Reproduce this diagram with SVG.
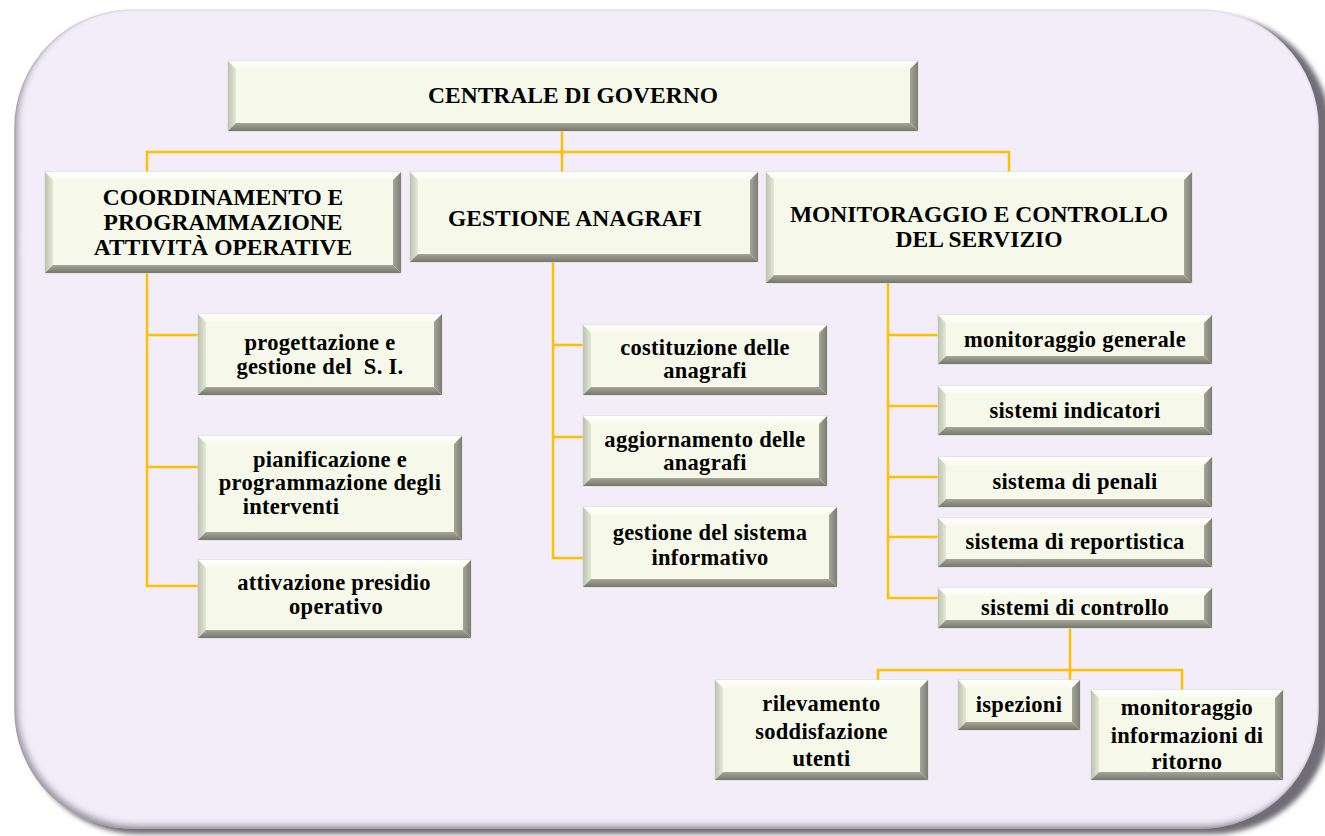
<svg xmlns="http://www.w3.org/2000/svg" width="1325" height="836" viewBox="0 0 1325 836">
  <defs>
    <style>
      .face { fill: #F6F9E9; stroke: #D9DCCF; stroke-width: 1; }
      .bt { fill: url(#gTop); }
      .bl { fill: url(#gLeft); }
      .br { fill: url(#gRight); }
      .bb { fill: url(#gBottom); }
      .hd { font-family: "Liberation Serif", "Times New Roman", serif; font-weight: bold; font-size: 23.5px; fill: #000; text-anchor: middle; }
      .tx { font-family: "Liberation Serif", "Times New Roman", serif; font-weight: bold; font-size: 22.5px; letter-spacing: 0.3px; fill: #000; text-anchor: middle; }
      .wire { fill: none; stroke: #FFC000; stroke-width: 2.5; stroke-linejoin: miter; }
    </style>
    <linearGradient id="gTop" x1="0" y1="0" x2="0" y2="1">
      <stop offset="0" stop-color="#FFFFFB"/>
      <stop offset="1" stop-color="#F8FBEE"/>
    </linearGradient>
    <linearGradient id="gLeft" x1="0" y1="0" x2="1" y2="0">
      <stop offset="0" stop-color="#BEC2B1"/>
      <stop offset="1" stop-color="#E4E8D5"/>
    </linearGradient>
    <linearGradient id="gRight" x1="0" y1="0" x2="1" y2="0">
      <stop offset="0" stop-color="#A2A597"/>
      <stop offset="1" stop-color="#7B7E72"/>
    </linearGradient>
    <linearGradient id="gBottom" x1="0" y1="0" x2="0" y2="1">
      <stop offset="0" stop-color="#A3A698"/>
      <stop offset="1" stop-color="#74776B"/>
    </linearGradient>
    <filter id="panelShadow" x="-5%" y="-5%" width="110%" height="110%">
      <feGaussianBlur stdDeviation="2.5"/>
    </filter>
    <filter id="innerEdge" x="-5%" y="-5%" width="110%" height="110%">
      <feComponentTransfer in="SourceAlpha" result="inv">
        <feFuncA type="table" tableValues="1 0"/>
      </feComponentTransfer>
      <feGaussianBlur in="inv" stdDeviation="3" result="blur"/>
      <feOffset in="blur" dx="4" dy="-4" result="off"/>
      <feFlood flood-color="#6E6C78" flood-opacity="0.75"/>
      <feComposite in2="off" operator="in" result="shade"/>
      <feComposite in="shade" in2="SourceAlpha" operator="in" result="inner"/>
      <feMerge>
        <feMergeNode in="SourceGraphic"/>
        <feMergeNode in="inner"/>
      </feMerge>
    </filter>
  </defs>

  <rect width="1325" height="836" fill="#FFFFFF"/>

  <!-- background panel -->
  <g id="panel">
    <rect x="21" y="15" width="1310" height="819" rx="118" ry="118" fill="#6F6D76" filter="url(#panelShadow)"/>
    <rect x="15" y="10" width="1303" height="818" rx="118" ry="118" fill="#F2EDF9" stroke="#E6E2EE" stroke-width="1.5" filter="url(#innerEdge)"/>
  </g>

  <!-- connectors -->
  <g id="connectors" class="wire">
    <path d="M562,131 V172 M147,172 V152 H1009 V172"/>
    <path d="M147,273 V586 H198 M147,335 H198 M147,467 H198"/>
    <path d="M553,262 V558 H583 M553,345 H583 M553,437 H583"/>
    <path d="M888,283 V598 H938 M888,335 H938 M888,406 H938 M888,477 H938 M888,537 H938"/>
    <path d="M1070,628 V680 M878,680 V670 H1182 V690"/>
  </g>

  <!-- level 0 -->
  <g id="centrale" transform="translate(228,61)">
    <rect class="face" width="690" height="70"/>
    <polygon class="bt" points="0,0 690,0 682,8 8,8"/>
    <polygon class="bl" points="0,0 8,8 8,62 0,70"/>
    <polygon class="br" points="690,0 690,70 682,62 682,8"/>
    <polygon class="bb" points="0,70 8,62 682,62 690,70"/>
    <text class="hd" x="345" y="42">CENTRALE DI GOVERNO</text>
  </g>

  <!-- level 1 -->
  <g id="coordinamento" transform="translate(45,172)">
    <rect class="face" width="356" height="101"/>
    <polygon class="bt" points="0,0 356,0 348,8 8,8"/>
    <polygon class="bl" points="0,0 8,8 8,93 0,101"/>
    <polygon class="br" points="356,0 356,101 348,93 348,8"/>
    <polygon class="bb" points="0,101 8,93 348,93 356,101"/>
    <text class="hd" x="178" y="33">COORDINAMENTO E</text>
    <text class="hd" x="178" y="58">PROGRAMMAZIONE</text>
    <text class="hd" x="178" y="83">ATTIVITÀ OPERATIVE</text>
  </g>

  <g id="anagrafi" transform="translate(410,172)">
    <rect class="face" width="348" height="90"/>
    <polygon class="bt" points="0,0 348,0 340,8 8,8"/>
    <polygon class="bl" points="0,0 8,8 8,82 0,90"/>
    <polygon class="br" points="348,0 348,90 340,82 340,8"/>
    <polygon class="bb" points="0,90 8,82 340,82 348,90"/>
    <text class="hd" x="165" y="54">GESTIONE ANAGRAFI</text>
  </g>

  <g id="monitoraggio" transform="translate(766,172)">
    <rect class="face" width="426" height="111"/>
    <polygon class="bt" points="0,0 426,0 418,8 8,8"/>
    <polygon class="bl" points="0,0 8,8 8,103 0,111"/>
    <polygon class="br" points="426,0 426,111 418,103 418,8"/>
    <polygon class="bb" points="0,111 8,103 418,103 426,111"/>
    <text class="hd" x="213" y="50">MONITORAGGIO E CONTROLLO</text>
    <text class="hd" x="213" y="75">DEL SERVIZIO</text>
  </g>

  <!-- coordinamento children -->
  <g id="progettazione" transform="translate(198,314)">
    <rect class="face" width="244" height="81"/>
    <polygon class="bt" points="0,0 244,0 236,8 8,8"/>
    <polygon class="bl" points="0,0 8,8 8,73 0,81"/>
    <polygon class="br" points="244,0 244,81 236,73 236,8"/>
    <polygon class="bb" points="0,81 8,73 236,73 244,81"/>
    <text class="tx" x="122" y="36">progettazione e</text>
    <text class="tx" x="122" y="60" xml:space="preserve">gestione del  S. I.</text>
  </g>

  <g id="pianificazione" transform="translate(198,436)">
    <rect class="face" width="264" height="104"/>
    <polygon class="bt" points="0,0 264,0 256,8 8,8"/>
    <polygon class="bl" points="0,0 8,8 8,96 0,104"/>
    <polygon class="br" points="264,0 264,104 256,96 256,8"/>
    <polygon class="bb" points="0,104 8,96 256,96 264,104"/>
    <text class="tx" x="132" y="31">pianificazione e</text>
    <text class="tx" x="132" y="54">programmazione degli</text>
    <text class="tx" x="93" y="78">interventi</text>
  </g>

  <g id="attivazione" transform="translate(198,560)">
    <rect class="face" width="273" height="78"/>
    <polygon class="bt" points="0,0 273,0 265,8 8,8"/>
    <polygon class="bl" points="0,0 8,8 8,70 0,78"/>
    <polygon class="br" points="273,0 273,78 265,70 265,8"/>
    <polygon class="bb" points="0,78 8,70 265,70 273,78"/>
    <text class="tx" x="136" y="30">attivazione presidio</text>
    <text class="tx" x="138" y="54">operativo</text>
  </g>

  <!-- anagrafi children -->
  <g id="costituzione" transform="translate(583,325)">
    <rect class="face" width="244" height="70"/>
    <polygon class="bt" points="0,0 244,0 236,8 8,8"/>
    <polygon class="bl" points="0,0 8,8 8,62 0,70"/>
    <polygon class="br" points="244,0 244,70 236,62 236,8"/>
    <polygon class="bb" points="0,70 8,62 236,62 244,70"/>
    <text class="tx" x="122" y="30">costituzione delle</text>
    <text class="tx" x="122" y="53">anagrafi</text>
  </g>

  <g id="aggiornamento" transform="translate(583,416)">
    <rect class="face" width="244" height="70"/>
    <polygon class="bt" points="0,0 244,0 236,8 8,8"/>
    <polygon class="bl" points="0,0 8,8 8,62 0,70"/>
    <polygon class="br" points="244,0 244,70 236,62 236,8"/>
    <polygon class="bb" points="0,70 8,62 236,62 244,70"/>
    <text class="tx" x="122" y="31">aggiornamento delle</text>
    <text class="tx" x="122" y="54">anagrafi</text>
  </g>

  <g id="sistema-informativo" transform="translate(583,507)">
    <rect class="face" width="254" height="80"/>
    <polygon class="bt" points="0,0 254,0 246,8 8,8"/>
    <polygon class="bl" points="0,0 8,8 8,72 0,80"/>
    <polygon class="br" points="254,0 254,80 246,72 246,8"/>
    <polygon class="bb" points="0,80 8,72 246,72 254,80"/>
    <text class="tx" x="127" y="33">gestione del sistema</text>
    <text class="tx" x="127" y="58">informativo</text>
  </g>

  <!-- monitoraggio children -->
  <g id="monitoraggio-generale" transform="translate(938,315)">
    <rect class="face" width="274" height="49"/>
    <polygon class="bt" points="0,0 274,0 266,8 8,8"/>
    <polygon class="bl" points="0,0 8,8 8,41 0,49"/>
    <polygon class="br" points="274,0 274,49 266,41 266,8"/>
    <polygon class="bb" points="0,49 8,41 266,41 274,49"/>
    <text class="tx" x="137" y="32">monitoraggio generale</text>
  </g>

  <g id="sistemi-indicatori" transform="translate(938,386)">
    <rect class="face" width="274" height="49"/>
    <polygon class="bt" points="0,0 274,0 266,8 8,8"/>
    <polygon class="bl" points="0,0 8,8 8,41 0,49"/>
    <polygon class="br" points="274,0 274,49 266,41 266,8"/>
    <polygon class="bb" points="0,49 8,41 266,41 274,49"/>
    <text class="tx" x="137" y="32">sistemi indicatori</text>
  </g>

  <g id="sistema-penali" transform="translate(938,457)">
    <rect class="face" width="274" height="50"/>
    <polygon class="bt" points="0,0 274,0 266,8 8,8"/>
    <polygon class="bl" points="0,0 8,8 8,42 0,50"/>
    <polygon class="br" points="274,0 274,50 266,42 266,8"/>
    <polygon class="bb" points="0,50 8,42 266,42 274,50"/>
    <text class="tx" x="137" y="32">sistema di penali</text>
  </g>

  <g id="sistema-reportistica" transform="translate(938,518)">
    <rect class="face" width="274" height="49"/>
    <polygon class="bt" points="0,0 274,0 266,8 8,8"/>
    <polygon class="bl" points="0,0 8,8 8,41 0,49"/>
    <polygon class="br" points="274,0 274,49 266,41 266,8"/>
    <polygon class="bb" points="0,49 8,41 266,41 274,49"/>
    <text class="tx" x="137" y="31">sistema di reportistica</text>
  </g>

  <g id="sistemi-controllo" transform="translate(938,588)">
    <rect class="face" width="274" height="40"/>
    <polygon class="bt" points="0,0 274,0 266,8 8,8"/>
    <polygon class="bl" points="0,0 8,8 8,32 0,40"/>
    <polygon class="br" points="274,0 274,40 266,32 266,8"/>
    <polygon class="bb" points="0,40 8,32 266,32 274,40"/>
    <text class="tx" x="137" y="27">sistemi di controllo</text>
  </g>

  <!-- controllo children -->
  <g id="rilevamento" transform="translate(715,680)">
    <rect class="face" width="213" height="100"/>
    <polygon class="bt" points="0,0 213,0 205,8 8,8"/>
    <polygon class="bl" points="0,0 8,8 8,92 0,100"/>
    <polygon class="br" points="213,0 213,100 205,92 205,8"/>
    <polygon class="bb" points="0,100 8,92 205,92 213,100"/>
    <text class="tx" x="106.5" y="31">rilevamento</text>
    <text class="tx" x="106.5" y="59">soddisfazione</text>
    <text class="tx" x="106.5" y="86">utenti</text>
  </g>

  <g id="ispezioni" transform="translate(958,680)">
    <rect class="face" width="122" height="50"/>
    <polygon class="bt" points="0,0 122,0 114,8 8,8"/>
    <polygon class="bl" points="0,0 8,8 8,42 0,50"/>
    <polygon class="br" points="122,0 122,50 114,42 114,8"/>
    <polygon class="bb" points="0,50 8,42 114,42 122,50"/>
    <text class="tx" x="61" y="32">ispezioni</text>
  </g>

  <g id="informazioni-ritorno" transform="translate(1091,690)">
    <rect class="face" width="192" height="90"/>
    <polygon class="bt" points="0,0 192,0 184,8 8,8"/>
    <polygon class="bl" points="0,0 8,8 8,82 0,90"/>
    <polygon class="br" points="192,0 192,90 184,82 184,8"/>
    <polygon class="bb" points="0,90 8,82 184,82 192,90"/>
    <text class="tx" x="96" y="25">monitoraggio</text>
    <text class="tx" x="96" y="53">informazioni di</text>
    <text class="tx" x="96" y="79">ritorno</text>
  </g>
</svg>
